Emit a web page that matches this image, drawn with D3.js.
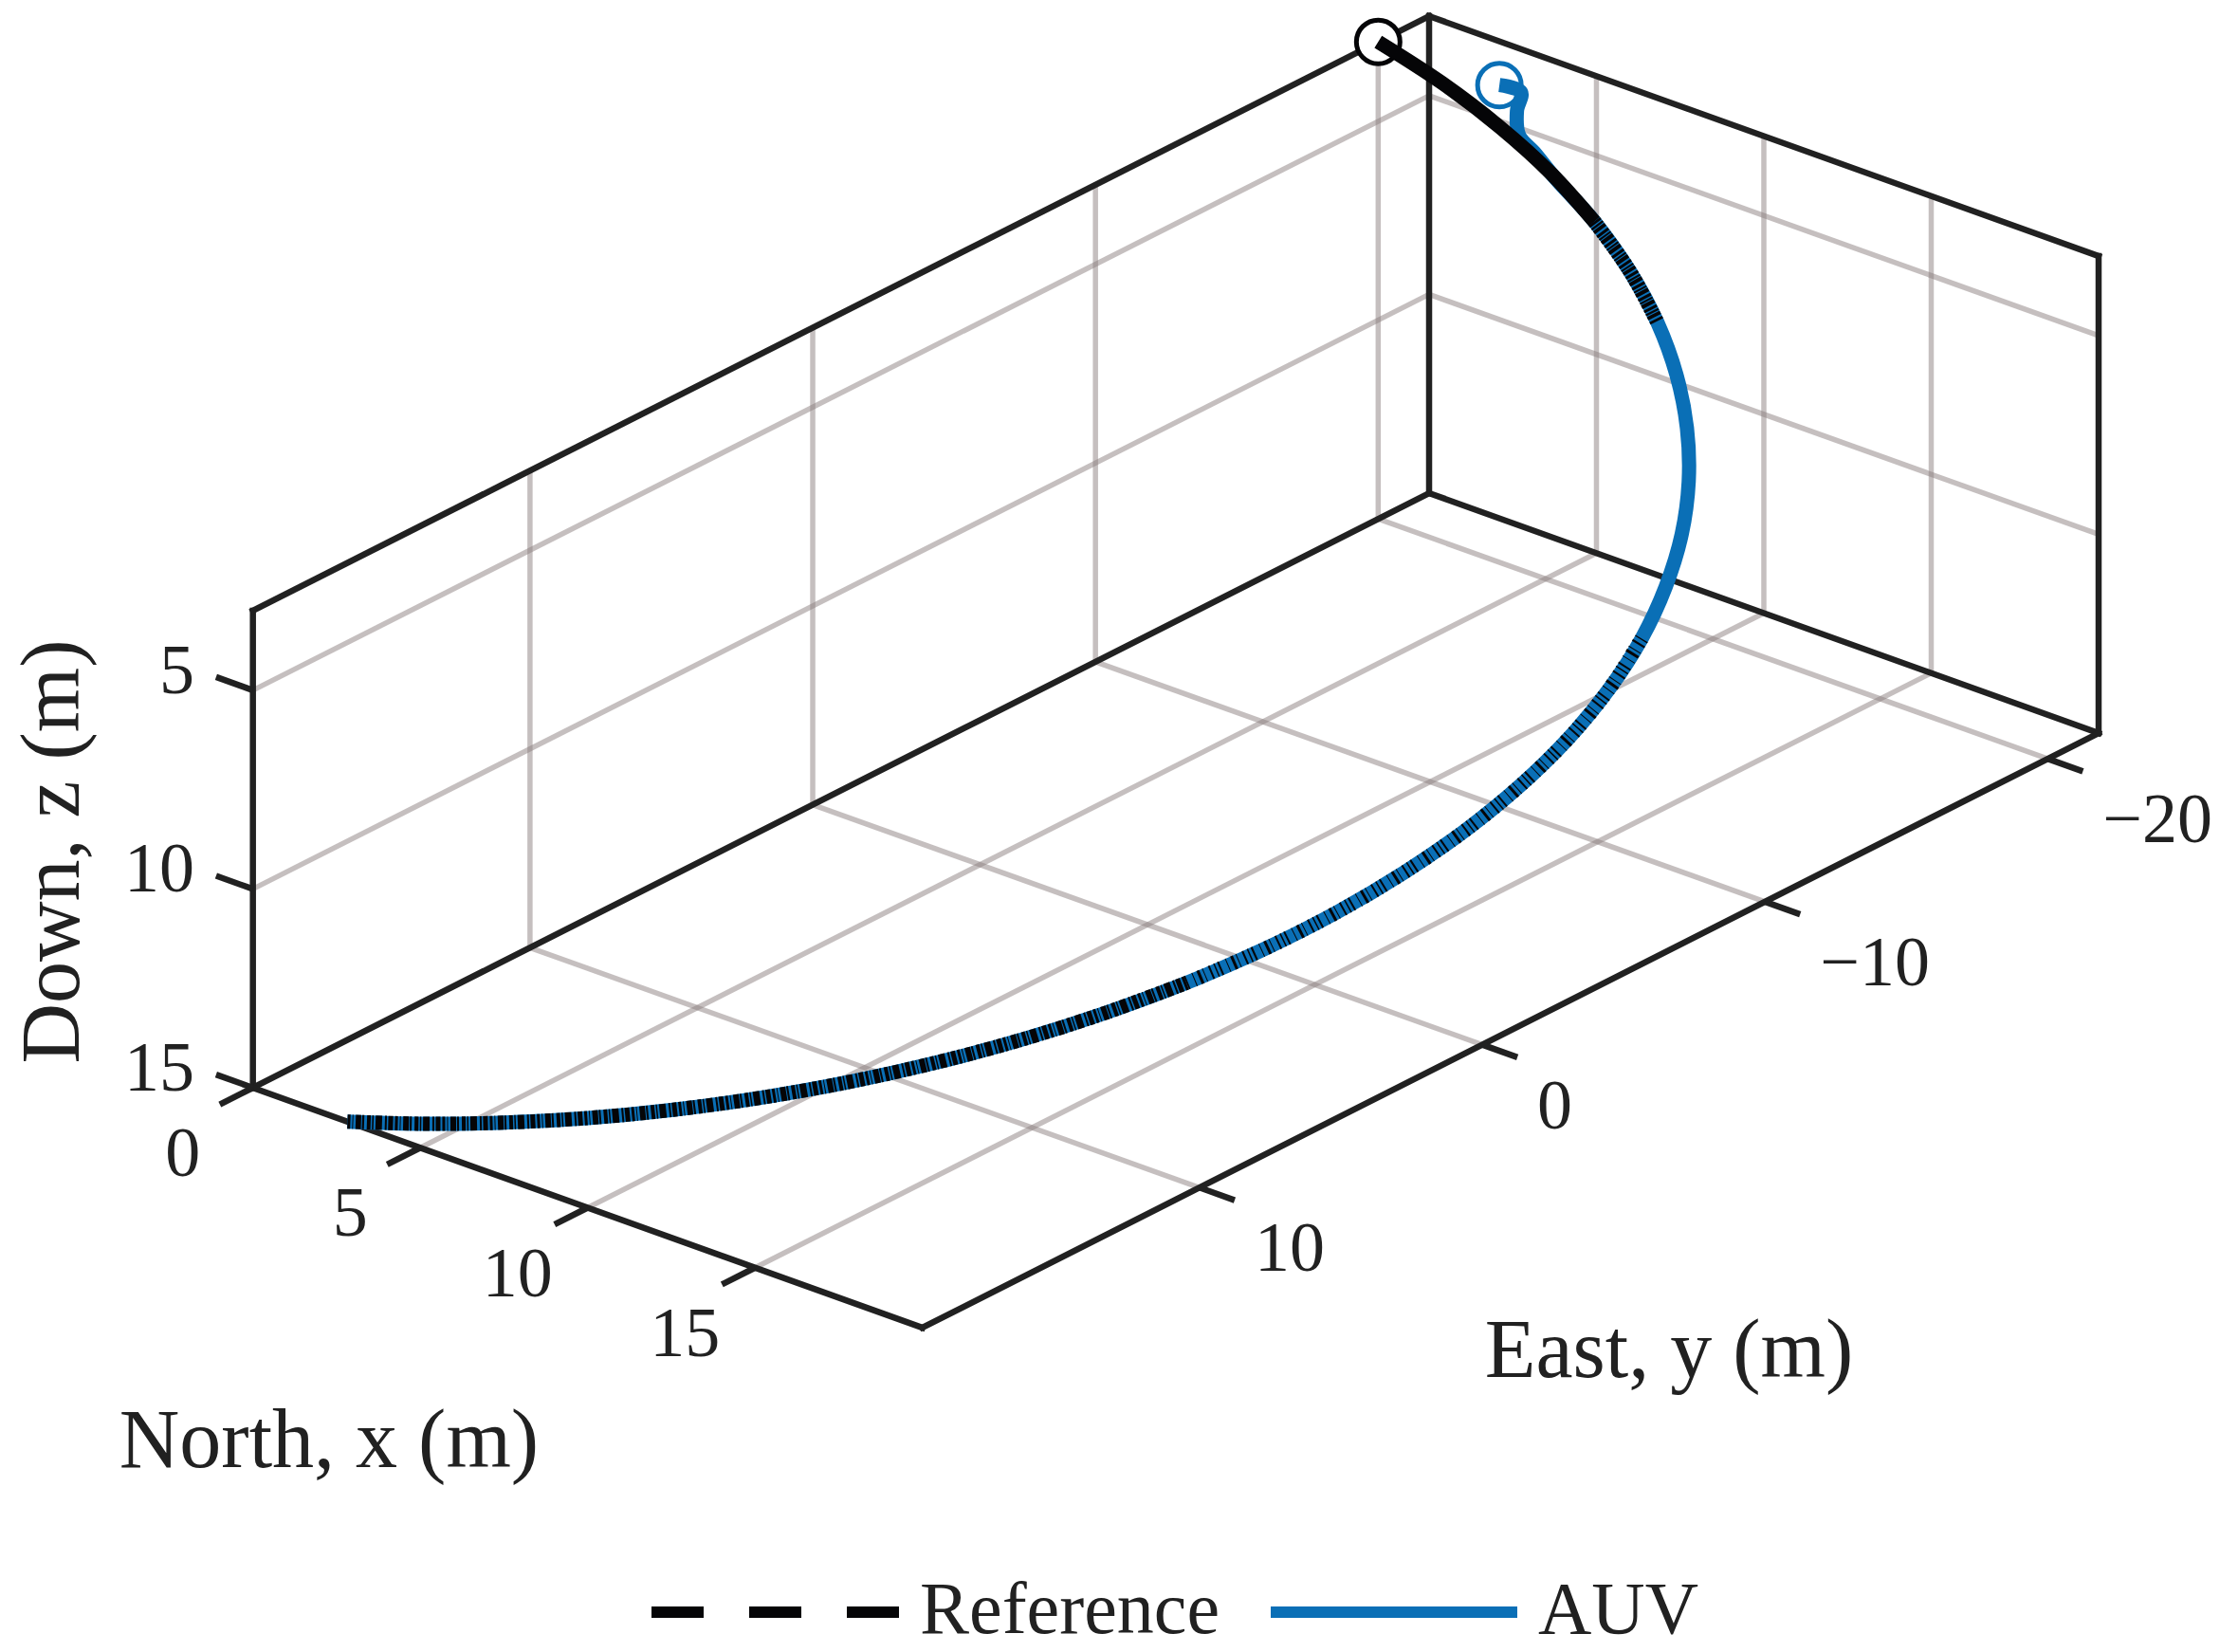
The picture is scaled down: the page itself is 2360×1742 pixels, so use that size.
<!DOCTYPE html>
<html>
<head>
<meta charset="utf-8">
<script src="https://cdn.jsdelivr.net/npm/d3@7"></script>
<style>
  html, body { margin: 0; padding: 0; background: #fff; }
  svg { display: block; }
  text { font-family: "Liberation Serif", "Times New Roman", serif; fill: #212121; }
</style>
</head>
<body>
<svg id="chart" width="2360" height="1742"></svg>
<script>
// axis limits (North x, East y, Down z)
const xLim = [0, 20];
const yLim = [19.8, -21.8];
const zLim = [15, 3];

const xTicks = [0, 5, 10, 15];
const yTicks = [10, 0, -10, -20];
const zTicks = [5, 10, 15];
const xTickLabels = ["0", "5", "10", "15"];
const yTickLabels = ["10", "0", "\u221210", "\u221220"];
const zTickLabels = ["5", "10", "15"];

// reference path
const refX = [0.00, 2.00, 3.97, 5.91, 7.79, 9.59, 11.29, 12.88, 14.35, 15.67, 16.83,
              17.82, 18.64, 19.27, 19.71, 19.95, 19.99, 19.83, 19.48, 18.93, 18.19,
              17.26, 16.17, 14.91, 13.51, 11.97, 10.31, 8.55, 6.70, 4.78, 2.82];
const refY = [-20.00, -19.90, -19.60, -19.11, -18.42, -17.55, -16.51, -15.30, -13.93, -12.43, -10.81,
              -9.07, -7.25, -5.35, -3.40, -1.41, 0.58, 2.58, 4.54, 6.47, 8.32,
              10.10, 11.77, 13.33, 14.75, 16.02, 17.14, 18.08, 18.84, 19.42, 19.80];
const refZ = [3.0, 3.4, 3.8, 4.2, 4.6, 5.0, 5.4, 5.8, 6.2, 6.6, 7.0,
              7.4, 7.8, 8.2, 8.6, 9.0, 9.4, 9.8, 10.2, 10.6, 11.0,
              11.4, 11.8, 12.2, 12.6, 13.0, 13.4, 13.8, 14.2, 14.6, 15.0];

// AUV path
const auvX = [2.10, 3.00, 3.30, 3.70, 4.50, 5.60, 7.79, 9.59, 11.29, 12.88, 14.35, 15.67, 16.83,
              17.82, 18.64, 19.27, 19.71, 19.95, 19.99, 19.83, 19.48, 18.93, 18.19,
              17.26, 16.17, 14.91, 13.51, 11.97, 10.31, 8.55, 6.70, 4.78, 2.82];
const auvY = [-21.80, -21.50, -21.00, -20.60, -20.20, -19.60, -18.42, -17.55, -16.51, -15.30, -13.93, -12.43, -10.81,
              -9.07, -7.25, -5.35, -3.40, -1.41, 0.58, 2.58, 4.54, 6.47, 8.32,
              10.10, 11.77, 13.33, 14.75, 16.02, 17.14, 18.08, 18.84, 19.42, 19.80];
const auvZ = [4.10, 3.90, 4.10, 4.45, 4.50, 4.57, 4.6, 5.0, 5.4, 5.8, 6.2, 6.6, 7.0,
              7.4, 7.8, 8.2, 8.6, 9.0, 9.4, 9.8, 10.2, 10.6, 11.0,
              11.4, 11.8, 12.2, 12.6, 13.0, 13.4, 13.8, 14.2, 14.6, 15.0];

const svg = d3.select("#chart");

// projected box: corner at (x=0, y=19.8, z=15) and one edge vector per axis
const origin = [266.7, 1147];
const edgeX = [706, 253];
const edgeY = [1240.3, -627];
const edgeZ = [0, -503];

const xs = d3.scaleLinear().domain(xLim).range([0, 1]);
const ys = d3.scaleLinear().domain(yLim).range([0, 1]);
const zs = d3.scaleLinear().domain(zLim).range([0, 1]);

function proj(x, y, z) {
    const a = xs(x), b = ys(y), c = zs(z);
    return [origin[0] + a * edgeX[0] + b * edgeY[0] + c * edgeZ[0],
            origin[1] + a * edgeX[1] + b * edgeY[1] + c * edgeZ[1]];
}

function seg(g, p, q) {
    const a = proj(...p), b = proj(...q);
    g.append("line")
        .attr("x1", a[0]).attr("y1", a[1])
        .attr("x2", b[0]).attr("y2", b[1]);
}

const [x0, x1] = xLim, [y0, y1] = yLim, [z0, z1] = zLim;

// grid
const grid = svg.append("g")
    .attr("stroke", "rgb(140,128,128)")
    .attr("stroke-opacity", 0.5)
    .attr("stroke-width", 5.5);
yTicks.forEach(v => {
    seg(grid, [x0, v, z0], [x0, v, z1]);    // back wall x=0
    seg(grid, [x0, v, z0], [x1, v, z0]);    // floor
});
xTicks.filter(v => v > x0).forEach(v => {
    seg(grid, [v, y1, z0], [v, y1, z1]);    // back wall y=min
    seg(grid, [v, y0, z0], [v, y1, z0]);    // floor
});
zTicks.filter(v => v < z0).forEach(v => {
    seg(grid, [x0, y0, v], [x0, y1, v]);
    seg(grid, [x0, y1, v], [x1, y1, v]);
});

// box
const box = svg.append("g")
    .attr("stroke", "#212121")
    .attr("stroke-width", 6.5)
    .attr("stroke-linecap", "square");
seg(box, [x0, y0, z0], [x0, y0, z1]);
seg(box, [x0, y0, z1], [x0, y1, z1]);
seg(box, [x0, y1, z1], [x0, y1, z0]);
seg(box, [x0, y0, z0], [x0, y1, z0]);
seg(box, [x0, y1, z0], [x1, y1, z0]);
seg(box, [x0, y1, z1], [x1, y1, z1]);
seg(box, [x1, y1, z1], [x1, y1, z0]);
seg(box, [x0, y0, z0], [x1, y0, z0]);
seg(box, [x1, y0, z0], [x1, y1, z0]);

// ticks
const ticks = svg.append("g")
    .attr("stroke", "#212121")
    .attr("stroke-width", 6.5);
const fontTick = 74;
xTicks.forEach((v, i) => {
    seg(ticks, [v, y0, z0], [v, y0 + 1.17, z0]);
    const p = proj(v, y0, z0);
    svg.append("text")
        .attr("x", p[0] - 74).attr("y", p[1] + 68)
        .attr("text-anchor", "middle").attr("dominant-baseline", "central")
        .attr("font-size", fontTick)
        .text(xTickLabels[i]);
});
yTicks.forEach((v, i) => {
    seg(ticks, [x1, v, z0], [x1 + 1.05, v, z0]);
    const p = proj(x1, v, z0);
    svg.append("text")
        .attr("x", p[0] + 58).attr("y", p[1] + 63)
        .attr("text-anchor", "start").attr("dominant-baseline", "central")
        .attr("font-size", fontTick)
        .text(yTickLabels[i]);
});
zTicks.forEach((v, i) => {
    seg(ticks, [x0, y0, v], [x0 - 1.1, y0, v]);
    const p = proj(x0, y0, v);
    svg.append("text")
        .attr("x", 205).attr("y", p[1] - 22)
        .attr("text-anchor", "end").attr("dominant-baseline", "central")
        .attr("font-size", fontTick)
        .text(zTickLabels[i]);
});

// axis labels
const fontLabel = 88;
svg.append("text")
    .attr("x", 347).attr("y", 1547)
    .attr("text-anchor", "middle").attr("font-size", fontLabel)
    .text("North, x (m)");
svg.append("text")
    .attr("x", 1760).attr("y", 1452)
    .attr("text-anchor", "middle").attr("font-size", fontLabel)
    .text("East, y (m)");
svg.append("text")
    .attr("transform", "translate(83,898) rotate(-90)")
    .attr("text-anchor", "middle").attr("font-size", fontLabel)
    .text("Down, z (m)");

// trajectories
const refPts = refX.map((x, i) => proj(x, refY[i], refZ[i]));
const auvPts = auvX.map((x, i) => proj(x, auvY[i], auvZ[i]));
const line = d3.line().curve(d3.curveCatmullRom.alpha(0.5));

const blue = "#0a6fb6";
const black = "#050507";

// start markers
svg.append("circle")
    .attr("cx", refPts[0][0]).attr("cy", refPts[0][1]).attr("r", 23)
    .attr("fill", "#fff").attr("stroke", black).attr("stroke-width", 5);
svg.append("circle")
    .attr("cx", auvPts[0][0]).attr("cy", auvPts[0][1]).attr("r", 23)
    .attr("fill", "#fff").attr("stroke", blue).attr("stroke-width", 5);

svg.append("path")
    .attr("d", line(auvPts))
    .attr("fill", "none").attr("stroke", blue)
    .attr("stroke-width", 15).attr("stroke-linejoin", "round");

// dashed reference: dense sampling breaks the dashes into short strokes
function refPiece(from, to, dash) {
    svg.append("path")
        .attr("d", line(refPts.slice(from, to)))
        .attr("fill", "none").attr("stroke", black)
        .attr("stroke-width", 15).attr("stroke-linejoin", "round")
        .attr("stroke-dasharray", dash);
}
refPiece(0, 5, null);
refPiece(4, 7, "3 1.5 2 1 4 2");
refPiece(12, 21, "1.5 4 2 6 1 3 3 5 1 7 2 3");
refPiece(20, 31, "3 2 5 1.5 2 3 7 2 1.5 1.5 4 3 2 1 6 2.5 1 2");

// legend
const legY = 1700;
svg.append("line")
    .attr("x1", 687).attr("x2", 948).attr("y1", legY).attr("y2", legY)
    .attr("stroke", black).attr("stroke-width", 12)
    .attr("stroke-dasharray", "55 48");
svg.append("text")
    .attr("x", 970).attr("y", 1722).attr("font-size", 78)
    .text("Reference");
svg.append("line")
    .attr("x1", 1340).attr("x2", 1600).attr("y1", legY).attr("y2", legY)
    .attr("stroke", blue).attr("stroke-width", 12);
svg.append("text")
    .attr("x", 1622).attr("y", 1722).attr("font-size", 78)
    .text("AUV");
</script>
</body>
</html>
